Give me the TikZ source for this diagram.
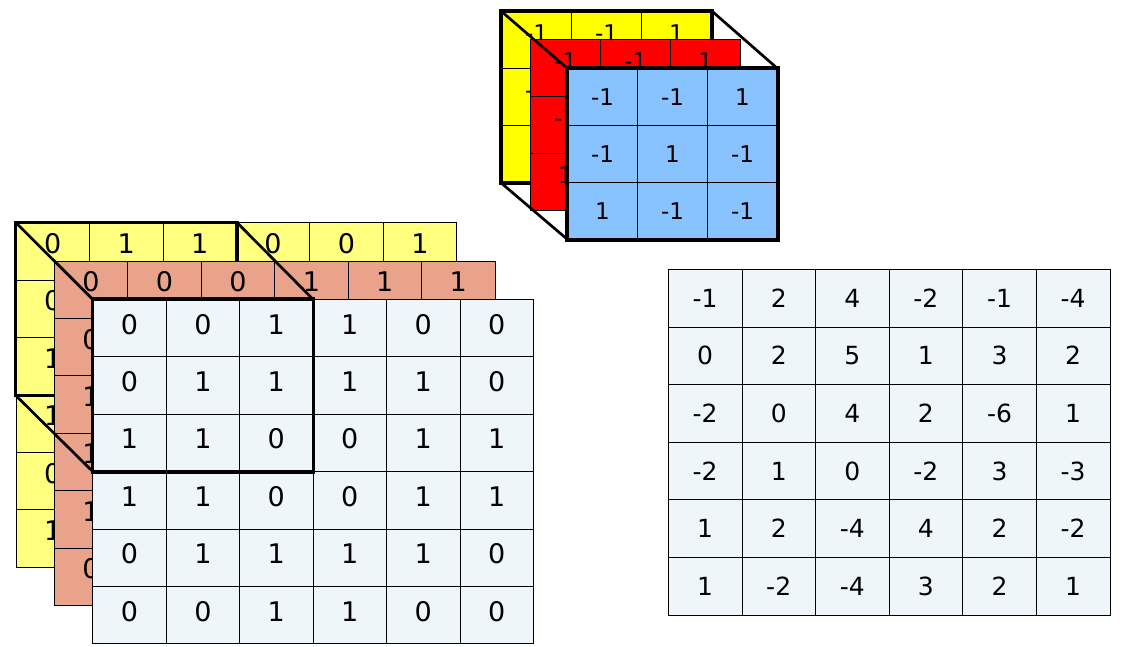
\documentclass[tikz,border=0pt]{standalone}
\usepackage{fontspec}
\setsansfont{DejaVu Sans}
\usepackage{tikz}
\definecolor{InYellow}{HTML}{FFFF80}
\definecolor{InSalmon}{HTML}{E9A38B}
\definecolor{InFront}{HTML}{EEF6FA}
\definecolor{KerYellow}{HTML}{FFFF00}
\definecolor{KerRed}{HTML}{FF0000}
\definecolor{KerBlue}{HTML}{88C2FF}
\newcommand{\numfont}[1]{\sffamily\fontsize{#1}{#1}\selectfont}

\begin{document}
\begin{tikzpicture}[x=1pt,y=-1pt,
    incell/.style={draw=black,line width=0.8pt,inner sep=0pt,
      minimum width=73.45pt,minimum height=57.4pt,
      font=\numfont{27},text height=20pt,text depth=#1},
    incell/.default=8pt,
    kcell/.style={draw=black,line width=0.8pt,inner sep=0pt,
      minimum width=70pt,minimum height=57pt,
      font=\numfont{23},text height=17pt,text depth=#1},
    kcell/.default=0pt,
    outcell/.style={draw=black,line width=0.8pt,fill=InFront,inner sep=0pt,
      minimum width=73.6pt,minimum height=57.6pt,font=\numfont{25}},
    boxline/.style={line width=3.5pt},
    cubeline/.style={line width=2.7pt}]
    \useasboundingbox (0,0) rectangle (1147,646);

    \foreach \row [count=\r] in {{-1,-1,1},{-1,{},{}},{{},{},{}}} {
      \foreach \v [count=\c] in \row {
        \node[kcell=14pt,fill=KerYellow] (ky-\r-\c) at ({501.5+(\c-0.5)*70},{11.5+(\r-0.5)*57}) {\v};
      }
    }
    \draw[boxline] (ky-1-1.north west) rectangle (ky-3-3.south east);
    \foreach \row [count=\r] in {{-1,-1,1},{-1,{},{}},{1,{},{}}} {
      \foreach \v [count=\c] in \row {
        \node[kcell=14pt,fill=KerRed] (kr-\r-\c) at ({530.5+(\c-0.5)*70},{39.5+(\r-0.5)*57}) {\v};
      }
    }
    \coordinate (kbnw) at (567.5,68.5);
    \coordinate (kbne) at (777.5,68.5);
    \coordinate (kbsw) at (567.5,239.5);
    \draw[cubeline] (ky-1-1.north west) -- (kbnw);
    \draw[cubeline] (ky-1-3.north east) -- (kbne);
    \draw[cubeline] (ky-3-1.south west) -- (kbsw);
    \foreach \row [count=\r] in {{-1,-1,1},{-1,1,-1},{1,-1,-1}} {
      \foreach \v [count=\c] in \row {
        \node[kcell,fill=KerBlue] (kb-\r-\c) at ({567.5+(\c-0.5)*70},{68.5+(\r-0.5)*57}) {\v};
      }
    }
    \draw[boxline] (kb-1-1.north west) rectangle (kb-3-3.south east);

    \foreach \row [count=\r] in {{0,1,1,0,0,1},{0,{},{},{},{},{}},{1,{},{},{},{},{}},
                                 {1,{},{},{},{},{}},{0,{},{},{},{},{}},{1,{},{},{},{},{}}} {
      \foreach \v [count=\c] in \row {
        \node[incell=16pt,fill=InYellow] (iy-\r-\c) at ({16+(\c-0.5)*73.45},{222.7+(\r-0.5)*57.4}) {\v};
      }
    }
    \draw[boxline] (iy-1-1.north west) rectangle (iy-3-3.south east);
    \foreach \row [count=\r] in {{0,0,0,1,1,1},{0,{},{},{},{},{}},{1,{},{},{},{},{}},
                                 {1,{},{},{},{},{}},{1,{},{},{},{},{}},{0,{},{},{},{},{}}} {
      \foreach \v [count=\c] in \row {
        \node[incell=16pt,fill=InSalmon] (is-\r-\c) at ({54.3+(\c-0.5)*73.45},{260.9+(\r-0.5)*57.4}) {\v};
      }
    }
    \coordinate (frnw) at (92.7,299.3);
    \coordinate (frne) at (313.05,299.3);
    \coordinate (frsw) at (92.7,471.5);
    \draw[cubeline] (iy-1-1.north west) -- (frnw);
    \draw[cubeline] (iy-1-3.north east) -- (frne);
    \draw[cubeline] (iy-3-1.south west) -- (frsw);
    \foreach \row [count=\r] in {{0,0,1,1,0,0},{0,1,1,1,1,0},{1,1,0,0,1,1},
                                 {1,1,0,0,1,1},{0,1,1,1,1,0},{0,0,1,1,0,0}} {
      \foreach \v [count=\c] in \row {
        \node[incell,fill=InFront] (fr-\r-\c) at ({92.7+(\c-0.5)*73.45},{299.3+(\r-0.5)*57.4}) {\v};
      }
    }
    \draw[boxline] (fr-1-1.north west) rectangle (fr-3-3.south east);

    \foreach \row [count=\r] in {{-1,2,4,-2,-1,-4},{0,2,5,1,3,2},{-2,0,4,2,-6,1},
                                 {-2,1,0,-2,3,-3},{1,2,-4,4,2,-2},{1,-2,-4,3,2,1}} {
      \foreach \v [count=\c] in \row {
        \node[outcell] (out-\r-\c) at ({668.3+(\c-0.5)*73.6},{269.3+(\r-0.5)*57.6}) {\v};
      }
    }
  \end{tikzpicture}
\end{document}
